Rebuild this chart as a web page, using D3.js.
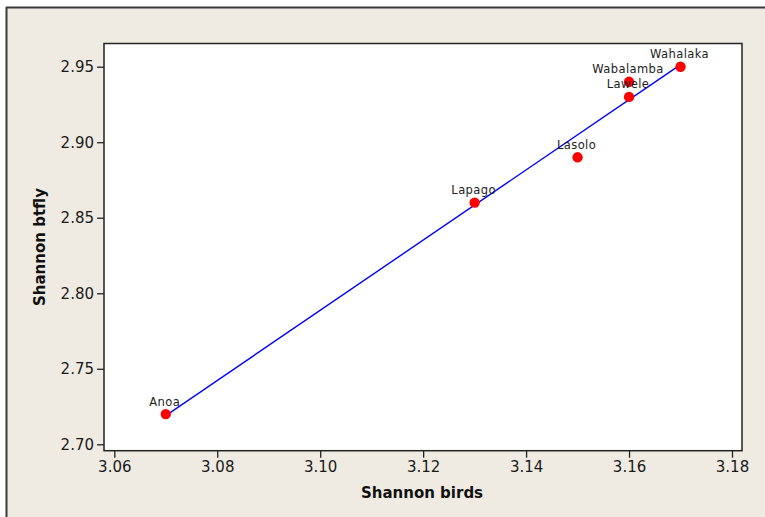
<!DOCTYPE html>
<html><head><meta charset="utf-8">
<script src="https://cdn.jsdelivr.net/npm/d3@7/dist/d3.min.js"></script>
<style>body{margin:0;background:#fff}svg{display:block}</style>
</head><body><svg id="c" width="765" height="517"></svg>
<script>
const sites = ["Anoa","Lapago","Lasolo","Lawele","Wabalamba","Wahalaka"];
const birds = [3.07, 3.13, 3.15, 3.16, 3.16, 3.17];
const btfly = [2.72, 2.86, 2.89, 2.93, 2.94, 2.95];
const xTicks = [3.06, 3.08, 3.10, 3.12, 3.14, 3.16, 3.18];
const yTicks = [2.70, 2.75, 2.80, 2.85, 2.90, 2.95];

const svg = d3.select("#c");
const font = "DejaVu Sans, Verdana, sans-serif";
// outer frame
svg.append("rect").attr("x",0).attr("y",0).attr("width",765).attr("height",517).attr("fill","#fff");
svg.append("rect").attr("x",7).attr("y",8).attr("width",770).attr("height",520).attr("fill","#EFEBE2");
svg.append("line").attr("x1",6).attr("x2",765).attr("y1",7.5).attr("y2",7.5).attr("stroke","#3a3a3a").attr("stroke-width",2);
svg.append("line").attr("x1",6.5).attr("x2",6.5).attr("y1",7).attr("y2",517).attr("stroke","#3a3a3a").attr("stroke-width",2);

const box = {l:104, t:43.5, r:742, b:450.7};
const x = d3.scaleLinear().domain([3.06,3.18]).range([114.3,732]);
const y = d3.scaleLinear().domain([2.70,2.95]).range([444.3,66.7]);

svg.append("rect").attr("x",box.l).attr("y",box.t).attr("width",box.r-box.l).attr("height",box.b-box.t)
  .attr("fill","#fff").attr("stroke","#222").attr("stroke-width",1.5);

const xa = svg.append("g").attr("transform",`translate(0,${box.b})`)
  .call(d3.axisBottom(x).tickValues(xTicks).tickFormat(d3.format(".2f")).tickSize(7).tickPadding(4));
const ya = svg.append("g").attr("transform",`translate(${box.l},0)`)
  .call(d3.axisLeft(y).tickValues(yTicks).tickFormat(d3.format(".2f")).tickSize(7).tickPadding(3));
[xa,ya].forEach(g=>{
  g.select(".domain").remove();
  g.selectAll(".tick line").attr("stroke","#222").attr("stroke-width",1.3);
  g.selectAll(".tick text").attr("fill","#1a1a1a").style("font-family",font).style("font-size","15px");
});

// fitted regression line
const n = birds.length;
const mx = d3.mean(birds), my = d3.mean(btfly);
let sxy=0,sxx=0;
for(let i=0;i<n;i++){sxy+=(birds[i]-mx)*(btfly[i]-my);sxx+=(birds[i]-mx)**2;}
const slope = sxy/sxx, icpt = my - slope*mx;
const xr = d3.extent(birds);
svg.append("path").datum(xr.map(v=>[v, icpt+slope*v]))
  .attr("d", d3.line().x(d=>x(d[0])).y(d=>y(d[1])))
  .attr("fill","none").attr("stroke","#0000ff").attr("stroke-width",1.4);

const pts = sites.map((s,i)=>({s, bx:birds[i], by:btfly[i]}));
svg.selectAll("circle.p").data(pts).join("circle").attr("class","p")
  .attr("cx",d=>x(d.bx)).attr("cy",d=>y(d.by)).attr("r",5.2).attr("fill","#ff0000");
svg.selectAll("text.lab").data(pts).join("text").attr("class","lab")
  .attr("x",d=>x(d.bx)-1).attr("y",d=>y(d.by)-8.5)
  .attr("text-anchor","middle").style("font-family",font).style("font-size","11.5px")
  .style("letter-spacing","0.4px").attr("fill","#222").text(d=>d.s);

svg.append("text").attr("x",422).attr("y",498).attr("text-anchor","middle")
  .style("font-family",font).style("font-size","15px").style("font-weight","bold").attr("fill","#111").text("Shannon birds");
svg.append("text").attr("transform","translate(45,247) rotate(-90)").attr("text-anchor","middle")
  .style("font-family",font).style("font-size","15px").style("font-weight","bold").attr("fill","#111").text("Shannon btfly");
</script></body></html>
